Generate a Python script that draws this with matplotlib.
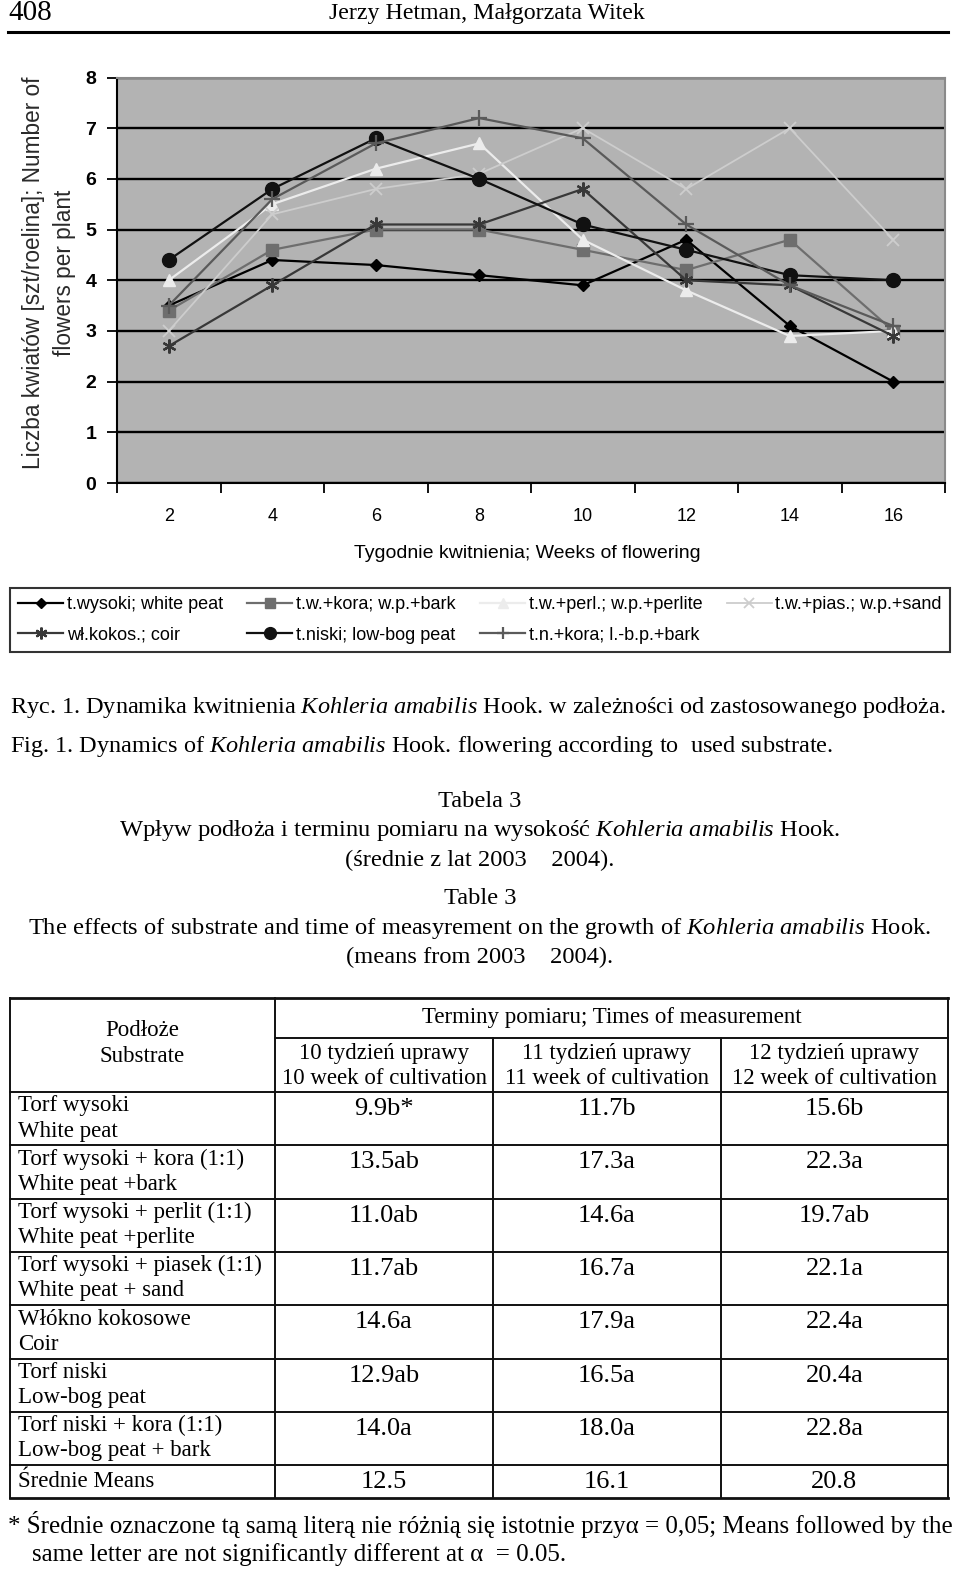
import numpy as np
import matplotlib
matplotlib.use("Agg")
import matplotlib.pyplot as plt

plt.rcParams['font.family'] = ['Liberation Sans', 'DejaVu Sans']
plt.rcParams['mathtext.fontset'] = 'custom'
plt.rcParams['mathtext.rm'] = 'Liberation Serif'
plt.rcParams['mathtext.it'] = 'Liberation Serif:italic'

# chart data: flowers per plant by week of flowering
weeks = [2, 4, 6, 8, 10, 12, 14, 16]
white_peat = [3.5, 4.4, 4.3, 4.1, 3.9, 4.8, 3.1, 2.0]
wp_bark = [3.4, 4.6, 5.0, 5.0, 4.6, 4.2, 4.8, 3.0]
wp_perlite = [4.0, 5.5, 6.2, 6.7, 4.8, 3.8, 2.9, 3.0]
wp_sand = [3.0, 5.3, 5.8, 6.1, 7.0, 5.8, 7.0, 4.8]
coir = [2.7, 3.9, 5.1, 5.1, 5.8, 4.0, 3.9, 2.9]
lowbog = [4.4, 5.8, 6.8, 6.0, 5.1, 4.6, 4.1, 4.0]
lbp_bark = [3.5, 5.6, 6.7, 7.2, 6.8, 5.1, 3.9, 3.1]

# table data
substrates_pl = ["Torf wysoki", "Torf wysoki + kora (1:1)", "Torf wysoki + perlit (1:1)",
                 "Torf wysoki + piasek (1:1)", "Włókno kokosowe", "Torf niski",
                 "Torf niski + kora (1:1)"]
substrates_en = ["White peat", "White peat +bark", "White peat +perlite", "White peat + sand",
                 "Coir", "Low-bog peat", "Low-bog peat + bark"]
week10 = ["9.9b*", "13.5ab", "11.0ab", "11.7ab", "14.6a", "12.9ab", "14.0a"]
week11 = ["11.7b", "17.3a", "14.6a", "16.7a", "17.9a", "16.5a", "18.0a"]
week12 = ["15.6b", "22.3a", "19.7ab", "22.1a", "22.4a", "20.4a", "22.8a"]
means = ["12.5", "16.1", "20.8"]

W, H = 960, 1578
fig = plt.figure(figsize=(W / 100, H / 100), dpi=100)
page = fig.add_axes([0, 0, 1, 1])
page.set_xlim(0, W)
page.set_ylim(H, 0)
page.axis('off')
renderer = fig.canvas.get_renderer()

SERIF = 'Liberation Serif'


def ptext(x, y, s, size, ha='left', fit=None, **kw):
    t = page.text(x, y, s, fontsize=size, ha=ha, va='center', family=SERIF, **kw)
    if fit:
        bb = t.get_window_extent(renderer)
        t.set_fontsize(size * fit / bb.width)
    return t


# page header
ptext(8, 13, "408", 21)
ptext(487, 13, "Jerzy Hetman, Małgorzata Witek", 17.2, ha='center')
page.plot([8, 948], [32, 32], color='black', lw=2.2)

# ---- chart ----
ax = fig.add_axes([117 / W, 1 - 483 / H, 828 / W, 405.5 / H])
ax.set_facecolor('#b3b3b3')
x = np.arange(len(weeks))
styles = [
    (white_peat, "t.wysoki; white peat", dict(color='black', marker='D', ms=6, lw=1.6)),
    (wp_bark, "t.w.+kora; w.p.+bark", dict(color='#6e6e6e', marker='s', ms=8, lw=1.6)),
    (wp_perlite, "t.w.+perl.; w.p.+perlite", dict(color='#ececec', marker='^', ms=9, lw=1.6)),
    (wp_sand, "t.w.+pias.; w.p.+sand", dict(color='#cdcdcd', marker='x', ms=8, mew=1.3, lw=1.3)),
    (coir, "wł.kokos.; coir", dict(color='#383838', marker=(6, 2, 0), ms=10, mew=1.6, lw=1.6)),
    (lowbog, "t.niski; low-bog peat", dict(color='#111111', marker='o', ms=10, lw=1.6)),
    (lbp_bark, "t.n.+kora; l.-b.p.+bark", dict(color='#5a5a5a', marker='+', ms=11, mew=1.6, lw=1.6)),
]
lines = []
for vals, lab, st in styles:
    ln, = ax.plot(x, vals, label=lab, **st)
    lines.append(ln)

ax.set_xlim(-0.5, len(weeks) - 0.5)
ax.set_ylim(0, 8)
ax.set_yticks(range(0, 9))
ax.set_yticklabels([str(v) for v in range(0, 9)], fontsize=14, fontweight='bold')
ax.set_xticks(np.arange(-0.5, len(weeks), 1.0))
ax.set_xticklabels([])
ax.set_xticks(x, minor=True)
ax.set_xticklabels([str(w) for w in weeks], minor=True, fontsize=13)
ax.tick_params(axis='x', which='minor', length=0, pad=18)
ax.tick_params(axis='x', which='major', length=7, width=1.3, direction='out')
ax.tick_params(axis='y', length=7, width=1.3, direction='out', pad=8)
ax.yaxis.grid(True, color='black', lw=1.7)
ax.set_axisbelow(True)
for s in ['left', 'bottom']:
    ax.spines[s].set_color('black')
    ax.spines[s].set_linewidth(1.5)
for s in ['top', 'right']:
    ax.spines[s].set_color('#8a8a8a')
    ax.spines[s].set_linewidth(1.5)

fig.text(527 / W, 1 - 554 / H, "Tygodnie kwitnienia; Weeks of flowering", fontsize=14,
         ha='center', va='center')
fig.text(49 / W, 1 - 273 / H, "Liczba kwiatów [szt/roelina]; Number of\nflowers per plant",
         fontsize=16.3, rotation=90, ha='center', va='center', multialignment='center',
         color='#2a2a2a', linespacing=1.45)

order = [0, 4, 1, 5, 2, 6, 3]
leg = fig.legend([lines[i] for i in order], [styles[i][1] for i in order], ncol=4,
                 loc='upper left', bbox_to_anchor=(10 / W, 1 - 650 / H, 940 / W, 62 / H),
                 mode='expand', fontsize=13, frameon=True, fancybox=False,
                 edgecolor='black', handlelength=2.5, handletextpad=0.2,
                 borderaxespad=0, labelspacing=0.75, borderpad=0.45)
leg.get_frame().set_linewidth(1.5)
for h in leg.legend_handles:
    h.set_markersize(h.get_markersize() * 0.85)

# ---- captions ----
cap = ptext(10, 707, r"Ryc. 1. Dynamika kwitnienia $\mathit{Kohleria\ amabilis}$ Hook. w zależności od zastosowanego podłoża.",
            16, fit=940)
cs = cap.get_fontsize()
ptext(10, 746, r"Fig. 1. Dynamics of $\mathit{Kohleria\ amabilis}$ Hook. flowering according to  used substrate.", cs)

t2 = ptext(480, 830, r"Wpływ podłoża i terminu pomiaru na wysokość $\mathit{Kohleria\ amabilis}$ Hook.",
           16, ha='center', fit=722)
ts = t2.get_fontsize()
ptext(480, 801, "Tabela 3", ts, ha='center')
ptext(480, 860, "(średnie z lat 2003    2004).", ts, ha='center')
ptext(480, 898, "Table 3", ts, ha='center')
ptext(480, 928, r"The effects of substrate and time of measyrement on the growth of $\mathit{Kohleria\ amabilis}$ Hook.",
      ts, ha='center')
ptext(480, 957, "(means from 2003    2004).", ts, ha='center')

# ---- table ----
cols = [10, 275, 493, 721, 948]
top, sub, head_bot = 998, 1038, 1092
row_h = 53.3
n = len(substrates_pl)
row_edges = [head_bot + i * row_h for i in range(n + 1)]
bottom = row_edges[-1] + 33
lk = dict(color='#111111', lw=1.4)
page.plot([cols[0], cols[-1]], [top, top], color='#111111', lw=2)
page.plot([cols[0], cols[-1]], [bottom, bottom], color='#111111', lw=2)
page.plot([cols[1], cols[-1]], [sub, sub], **lk)
for y in row_edges:
    page.plot([cols[0], cols[-1]], [y, y], **lk)
page.plot([cols[0], cols[0]], [top, bottom], **lk)
page.plot([cols[-1], cols[-1]], [top, bottom], **lk)
page.plot([cols[1], cols[1]], [top, bottom], **lk)
for c in cols[2:-1]:
    page.plot([c, c], [sub, bottom], **lk)

centers = [(cols[i] + cols[i + 1]) / 2 for i in range(4)]
hs = 16.5
ptext(centers[0], 1030, "Podłoże", hs, ha='center')
ptext(centers[0], 1057, "Substrate", hs, ha='center')
ptext((cols[1] + cols[-1]) / 2, 1018, "Terminy pomiaru; Times of measurement", 16.5, ha='center')
for i, wk in enumerate(["10", "11", "12"]):
    ptext(centers[i + 1], 1053, wk + " tydzień uprawy", hs, ha='center')
    ptext(centers[i + 1], 1078, wk + " week of cultivation", hs, ha='center')

vs = 19
for i in range(n):
    y0 = row_edges[i]
    ptext(18, y0 + 14, substrates_pl[i], hs)
    ptext(18, y0 + 39, substrates_en[i], hs)
    for j, col in enumerate([week10, week11, week12]):
        ptext(centers[j + 1], y0 + 17, col[i], vs, ha='center')
ym = (row_edges[-1] + bottom) / 2
ptext(18, ym, "Średnie Means", hs)
for j, m in enumerate(means):
    ptext(centers[j + 1], ym, m, vs, ha='center')

# footnote
fn = ptext(8, 1525, "* Średnie oznaczone tą samą literą nie różnią się istotnie przyα = 0,05; Means followed by the",
           16, fit=943)
ptext(32, 1555, "same letter are not significantly different at α  = 0.05.", fn.get_fontsize())

fig.savefig("out.png", dpi=100)
